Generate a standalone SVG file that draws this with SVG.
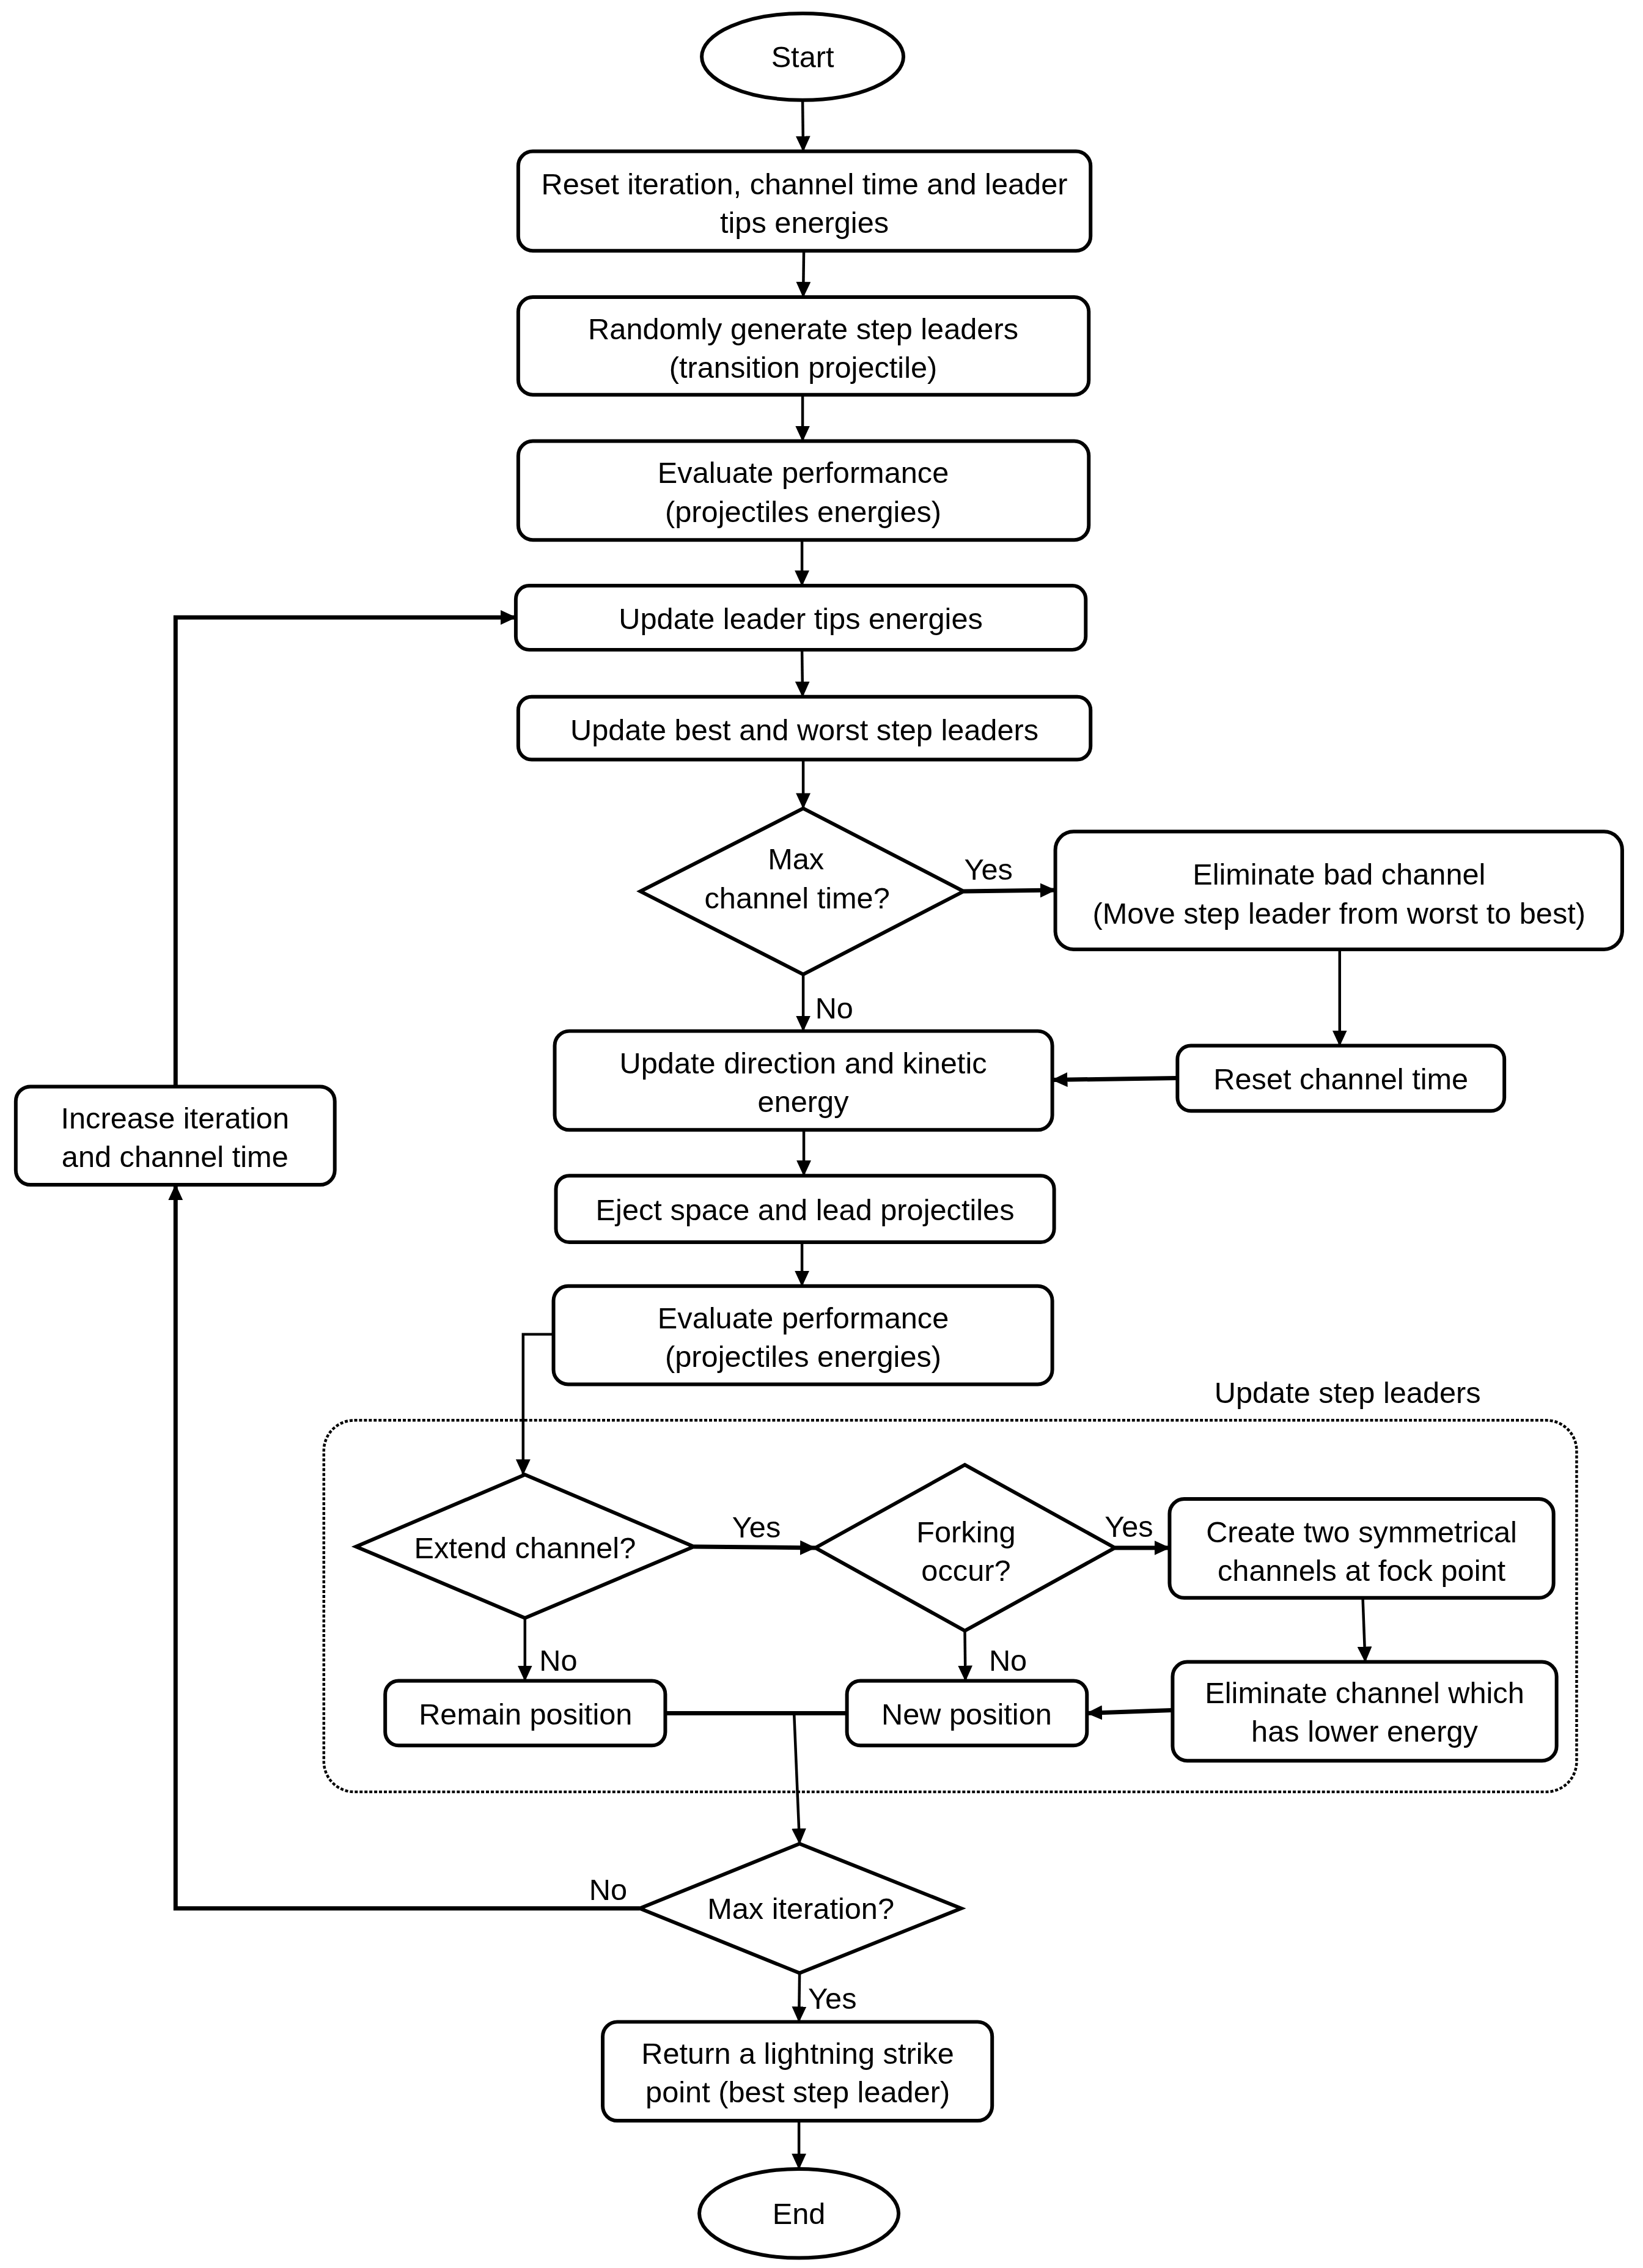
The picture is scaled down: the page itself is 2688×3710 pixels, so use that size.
<svg xmlns="http://www.w3.org/2000/svg" width="2688" height="3710" viewBox="0 0 2688 3710">
<defs>
<style>
.n{fill:#fff;stroke:#000;stroke-width:6}
.t{font-family:"Liberation Sans",Arial,sans-serif;font-size:49px;fill:#000;text-anchor:middle;dominant-baseline:central}
.c{fill:none;stroke:#000;stroke-width:4.5}
.k{fill:none;stroke:#000;stroke-width:7}
.grp{fill:none;stroke:#000;stroke-width:4.5;stroke-dasharray:5 3}
</style>
<marker id="ah" markerUnits="userSpaceOnUse" markerWidth="26" markerHeight="24" refX="25" refY="12" orient="auto">
<path d="M0,0 L26,12 L0,24 z" fill="#000"/>
</marker>
</defs>
<rect width="2688" height="3710" fill="#fff"/>
<g id="diagram" transform="scale(0.994 0.998)">

<g id="container">
<rect class="grp" x="533" y="2328" width="2062" height="609" rx="50"/>
<text class="t" x="2218" y="2283">Update step leaders</text>
</g>

<g id="connectors">
<line class="c" x1="1321" y1="164" x2="1322" y2="248" marker-end="url(#ah)"/>
<line class="c" x1="1323" y1="411" x2="1322" y2="487" marker-end="url(#ah)"/>
<line class="c" x1="1321" y1="647" x2="1321" y2="723" marker-end="url(#ah)"/>
<line class="c" x1="1320" y1="885" x2="1320" y2="960" marker-end="url(#ah)"/>
<line class="c" x1="1320" y1="1065" x2="1321" y2="1142" marker-end="url(#ah)"/>
<line class="c" x1="1322" y1="1245" x2="1322" y2="1325" marker-end="url(#ah)"/>
<line class="k" x1="1586" y1="1461" x2="1737" y2="1459" marker-end="url(#ah)"/>
<line class="c" x1="1322" y1="1597" x2="1322" y2="1690" marker-end="url(#ah)"/>
<line class="c" x1="2205" y1="1556" x2="2205" y2="1714" marker-end="url(#ah)"/>
<line class="k" x1="1938" y1="1767" x2="1732" y2="1770" marker-end="url(#ah)"/>
<line class="c" x1="1323" y1="1852" x2="1323" y2="1927" marker-end="url(#ah)"/>
<line class="c" x1="1320" y1="2036" x2="1320" y2="2108" marker-end="url(#ah)"/>
<polyline class="c" points="911,2187 861,2187 861,2417" marker-end="url(#ah)"/>
<line class="k" x1="1142" y1="2535" x2="1342" y2="2537" marker-end="url(#ah)"/>
<line class="k" x1="1835" y1="2537" x2="1925" y2="2537" marker-end="url(#ah)"/>
<line class="c" x1="2243" y1="2619" x2="2247" y2="2724" marker-end="url(#ah)"/>
<line class="k" x1="1930" y1="2803" x2="1789" y2="2808" marker-end="url(#ah)"/>
<line class="c" x1="864" y1="2652" x2="864" y2="2755" marker-end="url(#ah)"/>
<line class="c" x1="1588" y1="2673" x2="1589" y2="2755" marker-end="url(#ah)"/>
<line class="k" x1="1095" y1="2808" x2="1394" y2="2808"/>
<line class="c" x1="1307" y1="2808" x2="1316" y2="3022" marker-end="url(#ah)"/>
<polyline class="k" points="1053,3128 289,3128 289,1942" marker-end="url(#ah)"/>
<polyline class="k" points="289,1781 289,1012 849,1012" marker-end="url(#ah)"/>
<line class="c" x1="1316" y1="3234" x2="1315" y2="3314" marker-end="url(#ah)"/>
<line class="c" x1="1315" y1="3476" x2="1315" y2="3555" marker-end="url(#ah)"/>
<text class="t" x="1627" y="1425">Yes</text>
<text class="t" x="1373" y="1652">No</text>
<text class="t" x="1245" y="2503">Yes</text>
<text class="t" x="1858" y="2502">Yes</text>
<text class="t" x="919" y="2721">No</text>
<text class="t" x="1659" y="2721">No</text>
<text class="t" x="1001" y="3097">No</text>
<text class="t" x="1370" y="3276">Yes</text>
</g>

<g id="start">
<ellipse class="n" cx="1321" cy="93" rx="166" ry="71"/>
<text class="t" x="1321" y="93">Start</text>
</g>
<g id="reset">
<rect class="n" x="853" y="248" width="942" height="163" rx="24"/>
<text class="t" x="1324" y="302">Reset iteration, channel time and leader</text>
<text class="t" x="1324" y="365">tips energies</text>
</g>
<g id="generate">
<rect class="n" x="853" y="487" width="939" height="160" rx="24"/>
<text class="t" x="1322" y="539">Randomly generate step leaders</text>
<text class="t" x="1322" y="602">(transition projectile)</text>
</g>
<g id="evaluate1">
<rect class="n" x="853" y="723" width="939" height="162" rx="24"/>
<text class="t" x="1322" y="775">Evaluate performance</text>
<text class="t" x="1322" y="839">(projectiles energies)</text>
</g>
<g id="updateTips">
<rect class="n" x="849" y="960" width="938" height="105" rx="22"/>
<text class="t" x="1318" y="1014">Update leader tips energies</text>
</g>
<g id="updateBest">
<rect class="n" x="853" y="1142" width="942" height="103" rx="22"/>
<text class="t" x="1324" y="1196">Update best and worst step leaders</text>
</g>
<g id="maxChannel">
<polygon class="n" points="1322,1325 1586,1461 1322,1597 1054,1461"/>
<text class="t" x="1310" y="1408">Max</text>
<text class="t" x="1312" y="1472">channel time?</text>
</g>
<g id="eliminateBad">
<rect class="n" x="1737" y="1363" width="933" height="193" rx="30"/>
<text class="t" x="2204" y="1433">Eliminate bad channel</text>
<text class="t" x="2204" y="1497">(Move step leader from worst to best)</text>
</g>
<g id="resetChannel">
<rect class="n" x="1938" y="1714" width="538" height="107" rx="22"/>
<text class="t" x="2207" y="1769">Reset channel time</text>
</g>
<g id="updateDirection">
<rect class="n" x="913" y="1690" width="819" height="162" rx="24"/>
<text class="t" x="1322" y="1742">Update direction and kinetic</text>
<text class="t" x="1322" y="1806">energy</text>
</g>
<g id="eject">
<rect class="n" x="915" y="1927" width="820" height="109" rx="22"/>
<text class="t" x="1325" y="1983">Eject space and lead projectiles</text>
</g>
<g id="evaluate2">
<rect class="n" x="911" y="2108" width="821" height="161" rx="24"/>
<text class="t" x="1322" y="2160">Evaluate performance</text>
<text class="t" x="1322" y="2223">(projectiles energies)</text>
</g>
<g id="increase">
<rect class="n" x="26" y="1781" width="525" height="161" rx="24"/>
<text class="t" x="288" y="1833">Increase iteration</text>
<text class="t" x="288" y="1896">and channel time</text>
</g>
<g id="extend">
<polygon class="n" points="864,2417 1142,2535 864,2652 586,2535"/>
<text class="t" x="864" y="2537">Extend channel?</text>
</g>
<g id="forking">
<polygon class="n" points="1588,2401 1835,2537 1588,2673 1342,2537"/>
<text class="t" x="1590" y="2511">Forking</text>
<text class="t" x="1590" y="2574">occur?</text>
</g>
<g id="create">
<rect class="n" x="1925" y="2457" width="632" height="162" rx="24"/>
<text class="t" x="2241" y="2511">Create two symmetrical</text>
<text class="t" x="2241" y="2574">channels at fock point</text>
</g>
<g id="eliminateLow">
<rect class="n" x="1930" y="2724" width="632" height="162" rx="24"/>
<text class="t" x="2246" y="2775">Eliminate channel which</text>
<text class="t" x="2246" y="2838">has lower energy</text>
</g>
<g id="newPos">
<rect class="n" x="1394" y="2755" width="395" height="106" rx="22"/>
<text class="t" x="1591" y="2810">New position</text>
</g>
<g id="remainPos">
<rect class="n" x="634" y="2755" width="461" height="106" rx="22"/>
<text class="t" x="865" y="2810">Remain position</text>
</g>
<g id="maxIter">
<polygon class="n" points="1316,3022 1582,3128 1316,3234 1053,3128"/>
<text class="t" x="1318" y="3128">Max iteration?</text>
</g>
<g id="return">
<rect class="n" x="992" y="3314" width="641" height="162" rx="24"/>
<text class="t" x="1313" y="3366">Return a lightning strike</text>
<text class="t" x="1313" y="3429">point (best step leader)</text>
</g>
<g id="end">
<ellipse class="n" cx="1315" cy="3628" rx="164" ry="73"/>
<text class="t" x="1315" y="3628">End</text>
</g>
</g>
</svg>
